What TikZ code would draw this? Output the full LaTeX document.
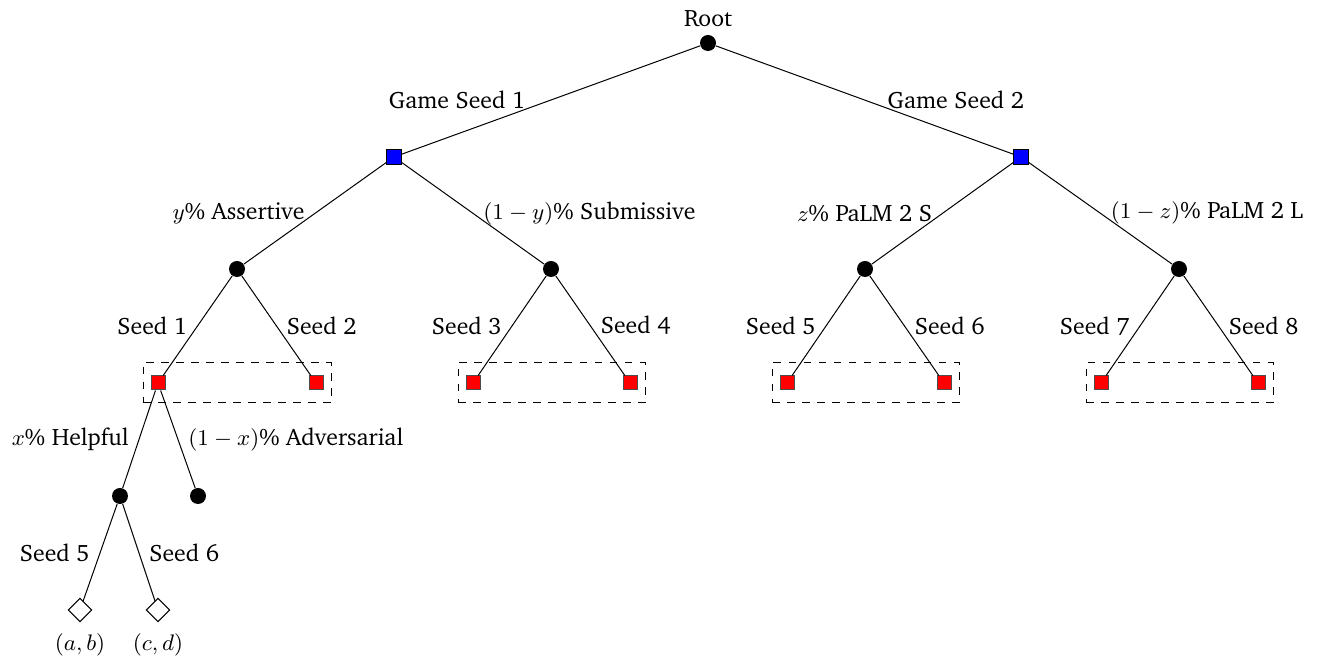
\documentclass[tikz,border=0pt]{standalone}
\usepackage[T1]{fontenc}
\usepackage{charter}
\usetikzlibrary{shapes.geometric,fit}

\tikzset{
  chance/.style={circle, fill=black, inner sep=0pt, minimum size=6.4pt},
  gamesq/.style={rectangle, draw=black, fill=blue, inner sep=0pt, minimum size=5.8pt},
  seedsq/.style={rectangle, draw=black!70, fill=red, inner sep=0pt, minimum size=5.6pt},
  leaf/.style={diamond, draw=black, fill=white, inner sep=0pt, minimum size=9.5pt},
  infoset/.style={draw, dashed, inner xsep=3pt, inner ysep=5pt},
  lbl/.style={inner sep=0pt, font=\fontsize{9.5}{11}\selectfont},
  ll/.style={lbl, midway, left=#1},
  rl/.style={lbl, midway, right=#1},
  ll/.default=4pt, rl/.default=4pt
}

\begin{document}
\begin{tikzpicture}[x=0.4pt, y=-0.4pt]
  \useasboundingbox (0,0) rectangle (1322,657);

  \node[chance, label={[lbl, yshift=3pt]above:Root}] (root) at (708,43) {};
  \node[gamesq] (g1) at (394,157) {};
  \node[gamesq] (g2) at (1021,157) {};

  \node[chance] (p1) at (237,269) {};
  \node[chance] (p2) at (551,269) {};
  \node[chance] (p3) at (865,269) {};
  \node[chance] (p4) at (1179,269) {};

  \node[seedsq] (s1) at (158,383) {};
  \node[seedsq] (s2) at (316,383) {};
  \node[seedsq] (s3) at (473,383) {};
  \node[seedsq] (s4) at (630,383) {};
  \node[seedsq] (s5) at (787,383) {};
  \node[seedsq] (s6) at (944,383) {};
  \node[seedsq] (s7) at (1101,383) {};
  \node[seedsq] (s8) at (1258,383) {};

  \node[infoset, fit=(s1)(s2)] (i12) {};
  \node[infoset, fit=(s3)(s4)] (i34) {};
  \node[infoset, fit=(s5)(s6)] (i56) {};
  \node[infoset, fit=(s7)(s8)] (i78) {};

  \node[chance] (h) at (120,496) {};
  \node[chance] (a) at (198,496) {};

  \node[leaf, label={[lbl, yshift=-4.5pt]below:$(a,b)$}] (t1) at (80,610) {};
  \node[leaf, label={[lbl, yshift=-4.5pt]below:$(c,d)$}] (t2) at (158,610) {};

  \draw (root) -- node[ll=10pt] {Game Seed 1} (g1);
  \draw (root) -- node[rl=9pt] {Game Seed 2} (g2);

  \draw (g1) -- node[ll] {$y$\% Assertive} (p1);
  \draw (g1) -- node[rl] {$(1-y)$\% Submissive} (p2);
  \draw (g2) -- node[ll] {$z$\% PaLM 2 S} (p3);
  \draw (g2) -- node[rl] {$(1-z)$\% PaLM 2 L} (p4);

  \draw (p1) -- node[ll] {Seed 1} (s1);
  \draw (p1) -- node[rl] {Seed 2} (s2);
  \draw (p2) -- node[ll] {Seed 3} (s3);
  \draw (p2) -- node[rl] {Seed 4} (s4);
  \draw (p3) -- node[ll] {Seed 5} (s5);
  \draw (p3) -- node[rl] {Seed 6} (s6);
  \draw (p4) -- node[ll] {Seed 7} (s7);
  \draw (p4) -- node[rl] {Seed 8} (s8);

  \draw (s1) -- node[ll] {$x$\% Helpful} (h);
  \draw (s1) -- node[rl] {$(1-x)$\% Adversarial} (a);

  \draw (h) -- node[ll] {Seed 5} (t1);
  \draw (h) -- node[rl] {Seed 6} (t2);
\end{tikzpicture}
\end{document}
